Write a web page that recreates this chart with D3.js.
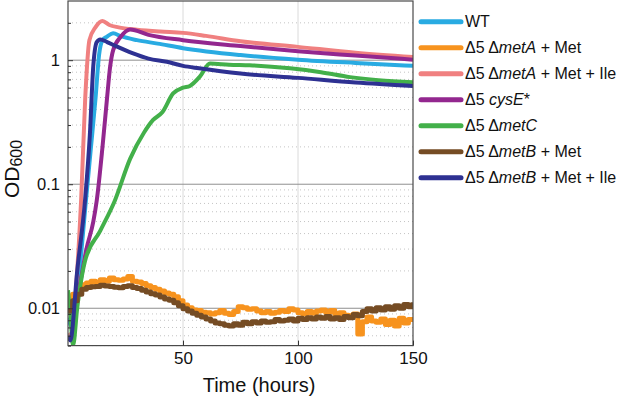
<!DOCTYPE html>
<meta charset="utf-8">
<script src="https://d3js.org/d3.v7.min.js"></script>
<style>
  body { margin: 0; background: #fff; }
  svg { font-family: 'Liberation Sans', Arial, sans-serif; }
</style>
<body>
<div id="my_dataviz"></div>
<script>

// smooth curves, time (hours) and OD600
var wtTime = [0, 2, 5, 7.8, 10, 12, 13.5, 15, 17, 19.6, 23, 30, 39, 50, 75, 100, 125, 150];
var wtOD   = [0.0084, 0.007, 0.02, 0.074, 0.2, 0.5, 1.1, 1.45, 1.55, 1.65, 1.56, 1.45, 1.36, 1.25, 1.1, 1.01, 0.95, 0.9];

var metAIleTime = [0, 2, 4, 5.7, 7.5, 9.3, 12, 15, 18, 22, 30, 40, 50, 60, 75, 100, 125, 150];
var metAIleOD   = [0.006, 0.0065, 0.02, 0.074, 0.5, 1.45, 1.85, 2.07, 1.92, 1.84, 1.76, 1.7, 1.66, 1.57, 1.42, 1.28, 1.15, 1.06];

var cysETime = [0, 2, 5, 8, 11, 12.5, 15, 17, 18.3, 19.6, 23, 27, 35, 50, 75, 100, 125, 150];
var cysEOD   = [0.011, 0.009, 0.015, 0.03, 0.05, 0.074, 0.2, 0.5, 0.88, 1.2, 1.55, 1.77, 1.6, 1.45, 1.3, 1.18, 1.09, 1.01];

var metCTime = [0, 1, 2.2, 4, 7.4, 14, 20.4, 27, 33, 37, 41, 45.7, 50, 53, 57.4, 61.7, 70, 79, 96.5, 110, 122.6, 135, 150];
var metCOD   = [0.014, 0.009, 0.005, 0.01, 0.024, 0.042, 0.074, 0.16, 0.26, 0.33, 0.38, 0.54, 0.6, 0.62, 0.74, 0.94, 0.92, 0.91, 0.86, 0.8, 0.73, 0.69, 0.665];

var metBIleTime = [0, 1, 4, 7.4, 9.5, 11, 12.5, 14, 17, 20, 28, 35, 43, 50, 57, 75, 100, 125, 150];
var metBIleOD   = [0.006, 0.0055, 0.02, 0.074, 0.25, 0.9, 1.4, 1.47, 1.4, 1.32, 1.14, 1.03, 0.97, 0.9, 0.86, 0.78, 0.72, 0.66, 0.62];

// noisy curves, sampled every 2 hours from 0 to 150
var noisyTime = d3.range(0, 151, 2);
var metAMetOD = [0.011, 0.013, 0.015, 0.0155, 0.016, 0.0165, 0.016, 0.017, 0.0165, 0.0175,
  0.017, 0.0168, 0.0172, 0.018, 0.0165, 0.0163, 0.0158, 0.0152, 0.0147, 0.0142,
  0.0138, 0.0133, 0.013, 0.0124, 0.0115, 0.0106, 0.0101, 0.0097, 0.0096, 0.0093,
  0.0092, 0.009, 0.0092, 0.0096, 0.0091, 0.0089, 0.0094, 0.0103, 0.0101, 0.0098,
  0.0099, 0.0095, 0.0092, 0.0094, 0.0091, 0.0093, 0.0096, 0.0094, 0.0099, 0.0097,
  0.0092, 0.009, 0.0094, 0.0091, 0.0095, 0.0097, 0.0093, 0.0096, 0.009, 0.0092,
  0.0088, 0.0087, 0.009, 0.0062, 0.0078, 0.0085, 0.0079, 0.0077, 0.0082, 0.0074,
  0.008, 0.0072, 0.0083, 0.0076, 0.0081, 0.0079];
var metBMetOD = [0.0095, 0.0115, 0.013, 0.0142, 0.0147, 0.0149, 0.015, 0.0153, 0.0151, 0.015,
  0.0148, 0.0146, 0.015, 0.0152, 0.0147, 0.0144, 0.014, 0.0135, 0.0131, 0.0128,
  0.0123, 0.0119, 0.0116, 0.0111, 0.0105, 0.0099, 0.0095, 0.0091, 0.0088, 0.0085,
  0.0082, 0.0079, 0.0076, 0.0075, 0.0073, 0.0072, 0.0075, 0.0073, 0.0077, 0.0075,
  0.0078, 0.0076, 0.0079, 0.0077, 0.0078, 0.0081, 0.0079, 0.008, 0.0082, 0.0079,
  0.0083, 0.0081, 0.0084, 0.0082, 0.0085, 0.0083, 0.0086, 0.0082, 0.0084, 0.0081,
  0.0086, 0.0084, 0.0089, 0.0087, 0.0094, 0.0099, 0.0095, 0.0101, 0.0097, 0.0103,
  0.0098, 0.0105, 0.01, 0.0107, 0.0103, 0.0112];

var seriesColors = ["#29abe2", "#f7931e", "#f08080", "#93278f", "#43b04a", "#754c24", "#2e3192"];
// legend labels: [text, italic]
var legendLabels = [
  [["WT", false]],
  [["\u03945 \u0394", false], ["metA", true], [" + Met", false]],
  [["\u03945 \u0394", false], ["metA", true], [" + Met + Ile", false]],
  [["\u03945 ", false], ["cysE", true], ["*", false]],
  [["\u03945 \u0394", false], ["metC", true]],
  [["\u03945 \u0394", false], ["metB", true], [" + Met", false]],
  [["\u03945 \u0394", false], ["metB", true], [" + Met + Ile", false]]
];
var xTicks = [50, 100, 150];
var yTicks = [0.01, 0.1, 1];
var yTickLabels = ["0.01", "0.1", "1"];

var width = 617, height = 397;
var plot = {left: 68, right: 413, top: 1, bottom: 345.6};

var svg = d3.select("#my_dataviz")
  .append("svg")
    .attr("width", width)
    .attr("height", height);

var x = d3.scaleLinear().domain([0, 150]).range([plot.left, plot.right]);
var y = d3.scaleLog().domain([0.005, 3]).range([plot.bottom, plot.top]);

// minor grid (dotted)
var minorVals = [];
[0.001, 0.01, 0.1, 1].forEach(function(p) {
  for (var k = 2; k <= 9; k++) {
    var v = k * p;
    if (v >= 0.005 && v < 3) minorVals.push(v);
  }
});
svg.append("g").selectAll("line")
  .data(minorVals)
  .enter().append("line")
    .attr("x1", plot.left).attr("x2", plot.right)
    .attr("y1", function(d) { return y(d); })
    .attr("y2", function(d) { return y(d); })
    .attr("stroke", "#c4c4c4")
    .attr("stroke-dasharray", "1,3")
    .attr("stroke-width", 1);

// vertical grid
svg.append("g").selectAll("line")
  .data([50, 100])
  .enter().append("line")
    .attr("x1", function(d) { return x(d); })
    .attr("x2", function(d) { return x(d); })
    .attr("y1", plot.top).attr("y2", plot.bottom)
    .attr("stroke", "#dadada")
    .attr("stroke-width", 1);

// major horizontal grid
svg.append("g").selectAll("line")
  .data(yTicks)
  .enter().append("line")
    .attr("x1", plot.left).attr("x2", plot.right)
    .attr("y1", function(d) { return y(d); })
    .attr("y2", function(d) { return y(d); })
    .attr("stroke", "#8f8f8f")
    .attr("stroke-width", 1);

svg.append("clipPath").attr("id", "clip")
  .append("rect")
    .attr("x", plot.left).attr("y", plot.top)
    .attr("width", plot.right - plot.left)
    .attr("height", plot.bottom - plot.top);

var smoothLine = d3.line()
  .x(function(d) { return x(d[0]); })
  .y(function(d) { return y(d[1]); })
  .curve(d3.curveMonotoneX);
var stepLine = d3.line()
  .x(function(d) { return x(d[0]); })
  .y(function(d) { return y(d[1]); })
  .curve(d3.curveStepAfter);

function pairs(t, v) { return t.map(function(d, i) { return [d, v[i]]; }); }

var curves = [
  {data: pairs(wtTime, wtOD), color: seriesColors[0], gen: smoothLine, w: 4},
  {data: pairs(noisyTime, metAMetOD), color: seriesColors[1], gen: stepLine, w: 5},
  {data: pairs(metAIleTime, metAIleOD), color: seriesColors[2], gen: smoothLine, w: 4},
  {data: pairs(cysETime, cysEOD), color: seriesColors[3], gen: smoothLine, w: 4},
  {data: pairs(metCTime, metCOD), color: seriesColors[4], gen: smoothLine, w: 4},
  {data: pairs(noisyTime, metBMetOD), color: seriesColors[5], gen: stepLine, w: 5},
  {data: pairs(metBIleTime, metBIleOD), color: seriesColors[6], gen: smoothLine, w: 4}
];

var lines = svg.append("g").attr("clip-path", "url(#clip)");
curves.forEach(function(c) {
  lines.append("path")
    .datum(c.data)
    .attr("d", c.gen)
    .attr("fill", "none")
    .attr("stroke", c.color)
    .attr("stroke-width", c.w)
    .attr("stroke-linejoin", "round");
});

// frame
svg.append("rect")
  .attr("x", plot.left).attr("y", plot.top)
  .attr("width", plot.right - plot.left)
  .attr("height", plot.bottom - plot.top)
  .attr("fill", "none")
  .attr("stroke", "#4a4a4a")
  .attr("stroke-width", 1.2);

// X axis
var xAxis = svg.append("g")
  .attr("transform", "translate(0," + plot.bottom + ")")
  .call(d3.axisBottom(x).tickValues(xTicks).tickSizeInner(-5).tickSizeOuter(0).tickPadding(6));
xAxis.select(".domain").remove();
xAxis.selectAll("line").attr("stroke", "#333");
xAxis.selectAll("text").attr("font-size", 17).attr("fill", "#111")
  .attr("font-family", "'Liberation Sans', Arial, sans-serif");

// Y axis
var yAxis = svg.append("g")
  .attr("transform", "translate(" + plot.left + ",0)")
  .call(d3.axisLeft(y).tickValues(yTicks)
    .tickFormat(function(d, i) { return yTickLabels[i]; })
    .tickSizeInner(-5).tickSizeOuter(0).tickPadding(8));
yAxis.select(".domain").remove();
yAxis.selectAll("line").attr("stroke", "#333");
yAxis.selectAll("text").attr("font-size", 16.5).attr("fill", "#111")
  .attr("font-family", "'Liberation Sans', Arial, sans-serif");

var yMinor = svg.append("g")
  .attr("transform", "translate(" + plot.left + ",0)")
  .call(d3.axisLeft(y).tickValues(minorVals).tickFormat("").tickSizeInner(-3).tickSizeOuter(0));
yMinor.select(".domain").remove();
yMinor.selectAll("line").attr("stroke", "#333");

// axis titles
svg.append("text")
  .attr("x", 259).attr("y", 392)
  .attr("text-anchor", "middle")
  .attr("font-size", 20)
  .attr("fill", "#111")
  .text("Time (hours)");

var yTitle = svg.append("text")
  .attr("transform", "translate(19,169) rotate(-90)")
  .attr("text-anchor", "middle")
  .attr("font-size", 21)
  .attr("fill", "#111");
yTitle.append("tspan").text("OD");
yTitle.append("tspan").attr("font-size", 16).attr("dy", 3).text("600");

// legend
var legend = svg.append("g");
legendLabels.forEach(function(parts, i) {
  var ly = 21.7 + i * 26;
  legend.append("line")
    .attr("x1", 421).attr("x2", 461)
    .attr("y1", ly).attr("y2", ly)
    .attr("stroke", seriesColors[i])
    .attr("stroke-width", 5)
    .attr("stroke-linecap", "round");
  var t = legend.append("text")
    .attr("x", 465).attr("y", ly)
    .attr("dy", "0.36em")
    .attr("font-size", 16)
    .attr("fill", "#111");
  parts.forEach(function(p) {
    t.append("tspan")
      .attr("font-style", p[1] ? "italic" : "normal")
      .text(p[0]);
  });
});

</script>
</body>
